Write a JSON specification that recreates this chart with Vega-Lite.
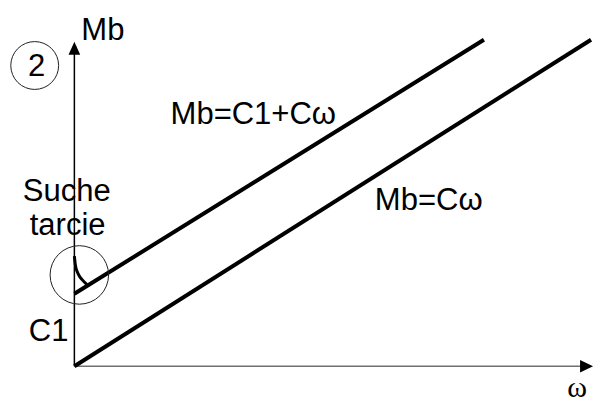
{
  "$schema": "https://vega.github.io/schema/vega-lite/v6.json",
  "width": 599,
  "height": 403,
  "autosize": {"type": "fit", "contains": "padding"},
  "padding": 0,
  "background": "white",
  "config": {"view": {"stroke": null}},
  "datasets": {
    "proste": [
      {"seria": "Mb=C1+Cω", "w": 0, "m": 73},
      {"seria": "Mb=C1+Cω", "w": 413, "m": 329},
      {"seria": "Mb=Cω", "w": 0, "m": 0},
      {"seria": "Mb=Cω", "w": 521, "m": 329}
    ],
    "tarcie": [
      {"w": 0, "m": 111},
      {"w": 1, "m": 102},
      {"w": 3, "m": 95},
      {"w": 5, "m": 91},
      {"w": 8, "m": 87},
      {"w": 13, "m": 82}
    ],
    "osie": [
      {"os": "Mb", "w": 0, "m": 0, "w2": 0, "m2": 320},
      {"os": "ω", "w": 0, "m": 0, "w2": 516, "m2": 0}
    ],
    "napisy": [
      {"tekst": "Mb", "w": 7, "m": 329},
      {"tekst": "Mb=C1+Cω", "w": 97, "m": 244},
      {"tekst": "Mb=Cω", "w": 303, "m": 157},
      {"tekst": "Suche", "w": -52, "m": 166},
      {"tekst": "tarcie", "w": -45, "m": 132},
      {"tekst": "C1", "w": -46, "m": 25}
    ]
  },
  "layer": [
    {
      "data": {"name": "osie"},
      "mark": {"type": "rule", "strokeWidth": 1.5},
      "encoding": {
        "x": {"field": "w", "type": "quantitative", "axis": null, "scale": {"domain": [-75, 524], "nice": false, "zero": false}},
        "y": {"field": "m", "type": "quantitative", "axis": null, "scale": {"domain": [-34, 369], "nice": false, "zero": false}},
        "x2": {"field": "w2"},
        "y2": {"field": "m2"},
        "color": {"field": "os", "type": "nominal", "legend": null, "scale": {"domain": ["Mb", "ω"], "range": ["#000000", "#707070"]}}
      }
    },
    {
      "data": {"values": [{"w": 0, "m": 320.5}]},
      "mark": {"type": "point", "shape": "M0,-1L0.9,1L-0.9,1Z", "size": 169, "filled": true, "color": "black", "opacity": 1},
      "encoding": {
        "x": {"field": "w", "type": "quantitative"},
        "y": {"field": "m", "type": "quantitative"}
      }
    },
    {
      "data": {"values": [{"w": 516.5, "m": 0}]},
      "mark": {"type": "point", "shape": "M1,0L-1,0.95L-1,-0.95Z", "size": 169, "filled": true, "color": "black", "opacity": 1},
      "encoding": {
        "x": {"field": "w", "type": "quantitative"},
        "y": {"field": "m", "type": "quantitative"}
      }
    },
    {
      "data": {"name": "proste"},
      "mark": {"type": "line", "color": "black", "strokeWidth": 4, "strokeCap": "butt"},
      "encoding": {
        "x": {"field": "w", "type": "quantitative"},
        "y": {"field": "m", "type": "quantitative"},
        "detail": {"field": "seria", "type": "nominal"}
      }
    },
    {
      "data": {"name": "tarcie"},
      "mark": {"type": "line", "color": "black", "strokeWidth": 3, "interpolate": "monotone"},
      "encoding": {
        "x": {"field": "w", "type": "quantitative"},
        "y": {"field": "m", "type": "quantitative"}
      }
    },
    {
      "data": {"values": [{"w": 5, "m": 92}]},
      "mark": {"type": "point", "shape": "circle", "size": 3421, "filled": false, "stroke": "#222222", "strokeWidth": 1, "opacity": 1},
      "encoding": {
        "x": {"field": "w", "type": "quantitative"},
        "y": {"field": "m", "type": "quantitative"}
      }
    },
    {
      "data": {"values": [{"w": -40, "m": 303}]},
      "mark": {"type": "point", "shape": "circle", "size": 2290, "filled": false, "stroke": "#222222", "strokeWidth": 1, "opacity": 1},
      "encoding": {
        "x": {"field": "w", "type": "quantitative"},
        "y": {"field": "m", "type": "quantitative"}
      }
    },
    {
      "data": {"values": [{"tekst": "2", "w": -38, "m": 292}]},
      "mark": {"type": "text", "font": "Liberation Sans", "fontSize": 31, "align": "center", "baseline": "alphabetic", "color": "black"},
      "encoding": {
        "x": {"field": "w", "type": "quantitative"},
        "y": {"field": "m", "type": "quantitative"},
        "text": {"field": "tekst"}
      }
    },
    {
      "data": {"name": "napisy"},
      "mark": {"type": "text", "font": "Liberation Sans", "fontSize": 31, "align": "left", "baseline": "alphabetic", "color": "black"},
      "encoding": {
        "x": {"field": "w", "type": "quantitative"},
        "y": {"field": "m", "type": "quantitative"},
        "text": {"field": "tekst"}
      }
    },
    {
      "data": {"values": [{"tekst": "ω", "w": 507, "m": -31}]},
      "mark": {"type": "text", "font": "Liberation Serif", "fontSize": 30, "align": "center", "baseline": "alphabetic", "color": "black"},
      "encoding": {
        "x": {"field": "w", "type": "quantitative"},
        "y": {"field": "m", "type": "quantitative"},
        "text": {"field": "tekst"}
      }
    }
  ]
}
